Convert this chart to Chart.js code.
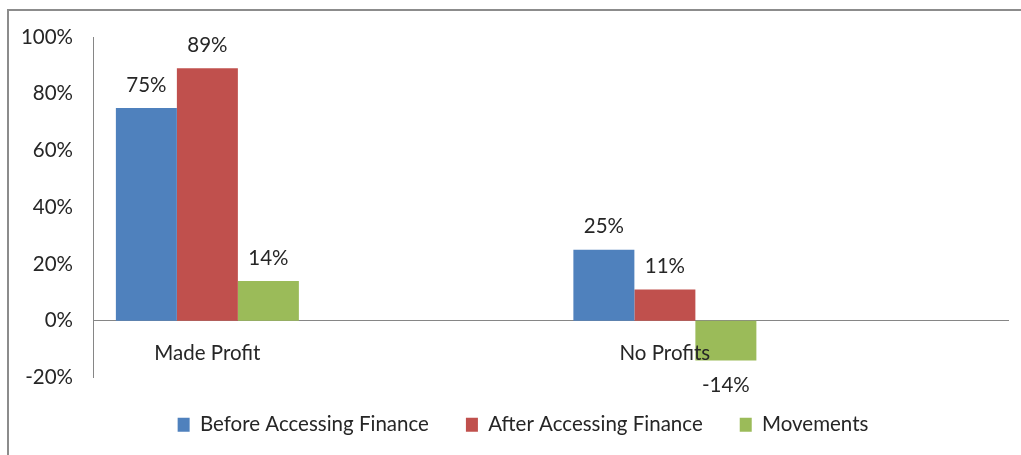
<!DOCTYPE html>
<html>
<head>
<meta charset="utf-8">
<script src="https://cdn.jsdelivr.net/npm/chart.js@4"></script>
<style>
  html, body { margin: 0; padding: 0; background: #fff; }
  #wrap { position: relative; width: 1021px; height: 455px; overflow: hidden; }
  #frame { position: absolute; left: 7px; top: 9px; width: 1100px; height: 500px;
           border-top: 2px solid #8c8c8c; border-left: 2px solid #8c8c8c; }
  canvas { position: absolute; left: 0; top: 0; }
</style>
</head>
<body>
<div id="wrap">
  <div id="frame"></div>
  <canvas id="profit-chart" width="1021" height="455"></canvas>
</div>
<script>
const categories = ["Made Profit", "No Profits"];
const seriesNames = ["Before Accessing Finance", "After Accessing Finance", "Movements"];
const beforeFinance = [75, 25];
const afterFinance = [89, 11];
const movements = [14, -14];
const yTicks = [-20, 0, 20, 40, 60, 80, 100];

const colors = ["#4f81bd", "#c0504d", "#9bbb59"];
const textColor = "#262626";
const axisColor = "#868686";
const fontFamily = "Lato, 'Liberation Sans', sans-serif";
const fontSize = 20.5;

Chart.defaults.font.family = fontFamily;
Chart.defaults.font.size = fontSize;
Chart.defaults.color = textColor;

// pair each value with its category index so the x scale places the groups
const toPoints = (values) => values.map((v, i) => ({ x: i, y: v }));

// percentage labels over (or under) each bar
const valueLabels = {
  id: "valueLabels",
  afterDatasetsDraw(chart) {
    const ctx = chart.ctx;
    ctx.save();
    ctx.font = `${fontSize}px ${fontFamily}`;
    ctx.fillStyle = textColor;
    ctx.textAlign = "center";
    ctx.textBaseline = "middle";
    chart.data.datasets.forEach((ds, i) => {
      chart.getDatasetMeta(i).data.forEach((bar, j) => {
        const v = ds.data[j].y;
        const y = v < 0 ? bar.y + 25 : bar.y - 23;
        ctx.fillText(v + "%", bar.x, y);
      });
    });
    ctx.restore();
  }
};

// legend in the original sits a little right of the canvas centre
const legendNudge = {
  id: "legendNudge",
  afterLayout(chart) {
    chart.legend.left += 10;
    chart.legend.right += 10;
  }
};

new Chart(document.getElementById("profit-chart"), {
  type: "bar",
  data: {
    datasets: [
      { label: seriesNames[0], data: toPoints(beforeFinance), backgroundColor: colors[0] },
      { label: seriesNames[1], data: toPoints(afterFinance), backgroundColor: colors[1] },
      { label: seriesNames[2], data: toPoints(movements), backgroundColor: colors[2] }
    ]
  },
  options: {
    responsive: false,
    animation: false,
    events: [],
    categoryPercentage: 0.4,
    barPercentage: 1,
    layout: { padding: { top: 37, left: 18, right: 13, bottom: 10 } },
    scales: {
      x: {
        type: "linear",
        position: { y: 0 },
        offset: false,
        min: -0.25,
        max: 1.75,
        grid: { display: false, drawTicks: false, offset: false },
        border: { color: axisColor, width: 1 },
        afterBuildTicks(scale) {
          scale.ticks = categories.map((c, i) => ({ value: i }));
        },
        ticks: {
          z: 1,
          padding: 20,
          autoSkip: false,
          maxRotation: 0,
          callback: (v) => categories[v]
        }
      },
      y: {
        min: yTicks[0],
        max: yTicks[yTicks.length - 1],
        grid: { display: false, drawTicks: false },
        border: { color: axisColor, width: 1 },
        afterBuildTicks(scale) {
          scale.ticks = yTicks.map((v) => ({ value: v }));
        },
        afterFit(scale) {
          scale.width = 75;
        },
        ticks: {
          padding: 20,
          callback: (v) => v + "%"
        }
      }
    },
    plugins: {
      legend: {
        position: "bottom",
        labels: { boxWidth: 12, boxHeight: 14, padding: 37 }
      },
      tooltip: { enabled: false }
    }
  },
  plugins: [valueLabels, legendNudge]
});
</script>
</body>
</html>
